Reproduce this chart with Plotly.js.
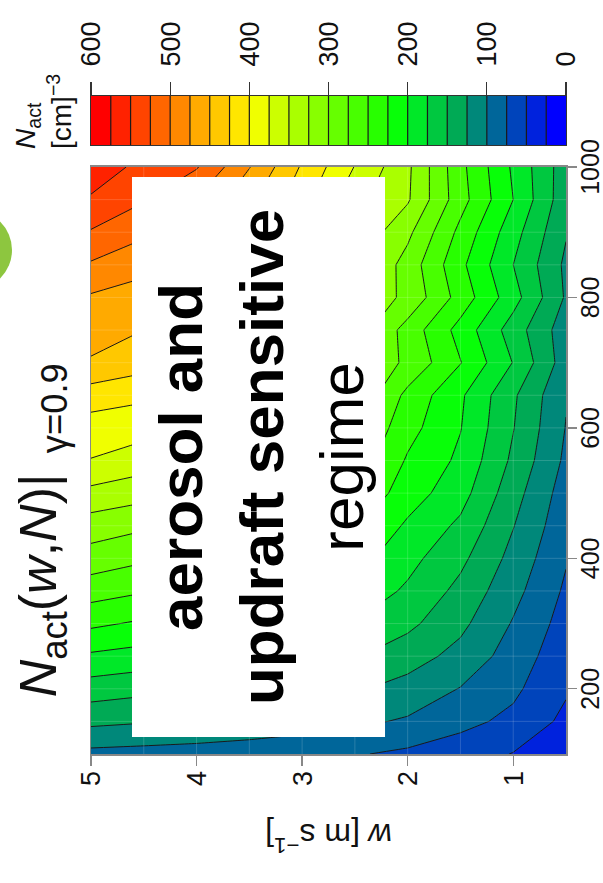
<!DOCTYPE html>
<html><head><meta charset="utf-8">
<script src="https://cdn.plot.ly/plotly-3.0.1.min.js"></script>
<style>
html,body{margin:0;padding:0;background:#fff;overflow:hidden;}
#wrap{position:relative;width:603px;height:883px;overflow:hidden;background:#fff;}
#plot{position:absolute;left:0;top:0;width:883px;height:603px;transform-origin:0 0;transform:translate(0px,883px) rotate(-90deg);}
</style></head><body>
<div id="wrap"><div id="plot"></div></div>
<script>
// aerosol number concentration N [cm^-3] (grid, x axis before rotation)
const nGrid = [100,150,200,250,300,350,400,450,500,550,600,650,700,750,800,850,900,950,1000];
// updraft w [m s^-1] (grid, y axis before rotation)
const wGrid = [0.5,1.0,1.5,2.0,2.5,3.0,3.5,4.0,4.5,5.0];
// N_act values, one row per N (columns follow wGrid)
const nact = [
  [35, 49, 62, 70, 77, 82, 86, 89, 91, 93],
  [44, 69, 82, 97, 105, 112, 118, 123, 127, 131],
  [53, 80, 99, 116, 128, 138, 146, 152, 157, 163],
  [59, 89, 117, 136, 152, 164, 175, 184, 190, 196],
  [65, 98, 131, 156, 174, 190, 205, 215, 221, 230],
  [71, 108, 143, 171, 192, 213, 232, 246, 252, 261],
  [77, 117, 156, 183, 210, 234, 256, 272, 279, 289],
  [83, 126, 170, 196, 228, 257, 282, 298, 304, 313],
  [88, 135, 185, 212, 248, 280, 306, 326, 334, 343],
  [95, 145, 195, 222, 267, 296, 323, 347, 362, 374],
  [99, 151, 201, 234, 279, 308, 336, 361, 384, 388],
  [102, 154, 204, 243, 298, 329, 358, 384, 405, 413],
  [112, 174, 226, 270, 300, 340, 376, 410, 435, 447],
  [111, 163, 216, 265, 315, 355, 391, 425, 450, 462],
  [122, 185, 240, 294, 322, 362, 400, 434, 466, 472],
  [120, 175, 231, 290, 335, 379, 419, 457, 481, 497],
  [127, 185, 243, 306, 346, 394, 438, 479, 505, 523],
  [134, 200, 260, 328, 358, 409, 456, 499, 527, 546],
  [136, 196, 257, 330, 374, 422, 476, 527, 540, 570]
];
// contour levels and band colours (band 0-25 ... band 575-600)
const levelStart = 25, levelEnd = 575, levelStep = 25;
const bandColors = ['#0000FF','#0022DD','#0044BB','#00669A','#00887A','#00AA55','#00C840','#00E828',
  '#08FF08','#28FF00','#48FF00','#66FF00','#88FF00','#AAFF00','#CCFF00','#F0FF00',
  '#FFE600','#FFC800','#FFAA00','#FF8800','#FF6600','#FF4400','#FF2200','#FF0000'];
const nTicks = [200,400,600,800,1000];
const wTicks = [1,2,3,4,5];
const cbTicks = [0,100,200,300,400,500,600];
const cbRange = [0,600];

const colorscale = bandColors.map((c,i)=>[i/(bandColors.length-1), c]);
const contourCfg = {start:levelStart, end:levelEnd, size:levelStep, coloring:'fill', showlines:true};

const main = {
  type:'contour', x:nGrid, y:wGrid, z:nact, transpose:true,
  autocontour:false, contours:contourCfg, colorscale:colorscale, showscale:false,
  line:{color:'#1a1a1a', width:1, smoothing:0}, hoverinfo:'skip'
};
const bar = {
  type:'contour', x:[0,1], y:cbRange, z:cbRange.map(v=>[v,v]),
  xaxis:'x2', yaxis:'y2',
  autocontour:false, contours:contourCfg, colorscale:colorscale, showscale:false,
  line:{color:'#1a1a1a', width:1.2, smoothing:0}, hoverinfo:'skip'
};

// faint cell edges of the data grid (as seen in the original raster)
const gridShapes = [];
nGrid.slice(1,-1).forEach(n=>gridShapes.push({type:'line', xref:'x', yref:'y', x0:n, x1:n,
  y0:wGrid[0], y1:wGrid[wGrid.length-1], line:{color:'rgba(255,255,255,0.16)', width:1}, layer:'above'}));
wGrid.slice(1,-1).forEach(w=>gridShapes.push({type:'line', xref:'x', yref:'y', y0:w, y1:w,
  x0:nGrid[0], x1:nGrid[nGrid.length-1], line:{color:'rgba(255,255,255,0.16)', width:1}, layer:'above'}));

const FONT = 'Liberation Sans, Arial, Helvetica, sans-serif';
const axBase = {showgrid:false, zeroline:false, ticks:'outside', showline:true, mirror:true};
const layout = {
  width:883, height:603,
  margin:{l:129, r:96, t:91, b:37, pad:0},
  paper_bgcolor:'#ffffff', plot_bgcolor:'#ffffff',
  font:{family:FONT, color:'#111', size:27},
  showlegend:false,
  title:{text:'<i>N</i><sub>act</sub>(<i>w</i>,<i>N</i>)|<sub>  γ=0.9</sub>', font:{size:52, family:FONT, color:'#111'},
         xref:'paper', x:0.34, xanchor:'center', yref:'container', y:0.938, yanchor:'middle'},
  xaxis:Object.assign({}, axBase, {domain:[0,0.8921], range:[100,1000], tickvals:nTicks,
         ticklen:9, tickwidth:1.3, tickcolor:'#888', linecolor:'#888', linewidth:1.5, tickfont:{size:25},
         ticklabelstandoff:-8}),
  yaxis:Object.assign({}, axBase, {domain:[0,1], range:[0.5,5], tickvals:wTicks,
         ticklen:10, tickwidth:1.3, tickcolor:'#888', linecolor:'#888', linewidth:1.5, tickfont:{size:27},
         title:{text:'<i>w</i> [m s<sup>−1</sup>]', font:{size:32}, standoff:28}}),
  xaxis2:{domain:[0.9255,1], anchor:'y2', range:[0,1], showticklabels:false, ticks:'', showline:true, mirror:true,
          linecolor:'#333', linewidth:1, showgrid:false, zeroline:false},
  yaxis2:{domain:[0,1], anchor:'x2', side:'right', range:cbRange, tickvals:cbTicks, ticks:'outside', ticklen:13,
          tickcolor:'#333', tickwidth:1.2, showline:true, mirror:true, linecolor:'#333', linewidth:1,
          showgrid:false, zeroline:false, tickfont:{size:27}, ticklabelstandoff:10},
  shapes: gridShapes.concat([
    {type:'rect', xref:'paper', yref:'paper', x0:0.0258, x1:0.877, y0:0.381, y1:0.9137,
     fillcolor:'#ffffff', line:{width:0}, layer:'above'},
    {type:'circle', xref:'paper', yref:'paper', x0:0.7052, x1:0.8267, y0:1.1663, y1:1.3347,
     fillcolor:'#8DC63F', line:{width:0}}
  ]),
  annotations:[
    {xref:'paper', yref:'paper', x:0.4514, y:0.642, xanchor:'center', yanchor:'middle', showarrow:false,
     text:'<b>aerosol and</b><br><b>updraft sensitive</b><br>regime', font:{size:62, family:FONT, color:'#000'}, align:'center'},
    {xref:'paper', yref:'paper', x:0.9164, y:1.10, xanchor:'left', yanchor:'middle', showarrow:false, align:'left',
     text:'<i>N</i><sub>act</sub><br>[cm]<sup>−3</sup>', font:{size:28, family:FONT, color:'#111'}}
  ]
};
Plotly.newPlot('plot', [main, bar], layout, {staticPlot:true, displayModeBar:false});
</script>
</body></html>
